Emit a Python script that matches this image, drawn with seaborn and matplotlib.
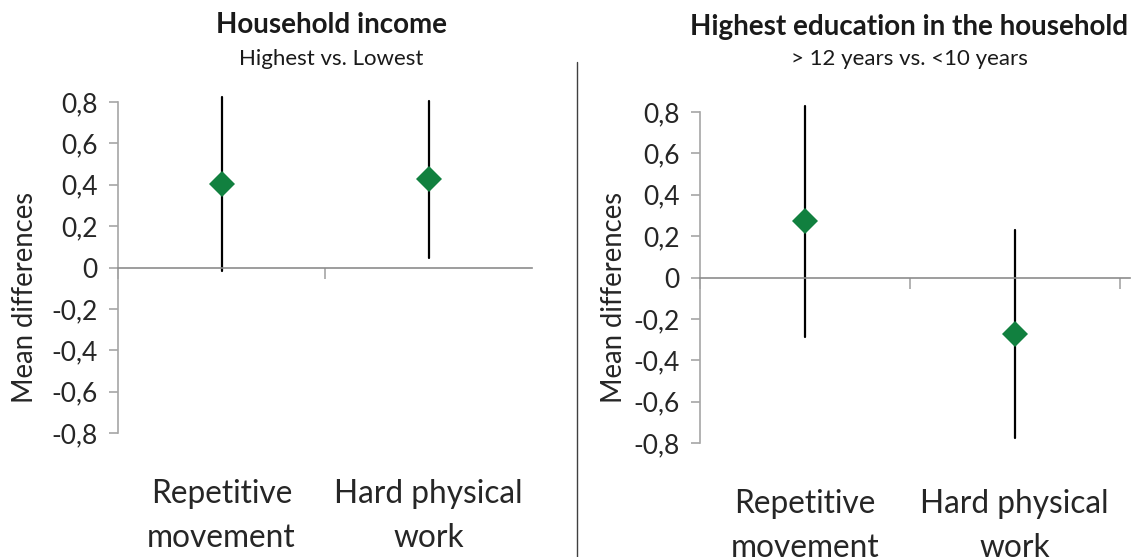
import numpy as np
import pandas as pd
import matplotlib
matplotlib.use("Agg")
import matplotlib.pyplot as plt
from matplotlib.lines import Line2D
import seaborn as sns

# ---- data -------------------------------------------------------------
categories = ["Repetitive\nmovement", "Hard physical\nwork"]

income_mean = [0.405, 0.43]
income_lower = [-0.015, 0.048]
income_upper = [0.823, 0.807]

education_mean = [0.271, -0.275]
education_lower = [-0.288, -0.776]
education_upper = [0.83, 0.23]

ytick_values = [-0.8, -0.6, -0.4, -0.2, 0, 0.2, 0.4, 0.6, 0.8]
ytick_labels = ["-0,8", "-0,6", "-0,4", "-0,2", "0", "0,2", "0,4", "0,6", "0,8"]

panel_titles = ["Household income", "Highest education in the household"]
panel_subtitles = ["Highest vs. Lowest", "> 12 years vs. <10 years"]

GREEN = "#11803f"
AXIS_GREY = "#a6a6a6"
FONT = ["Lato", "DejaVu Sans"]

sns.set_theme(style="white")
plt.rcParams["font.family"] = FONT


def long_frame(mean, lower, upper):
    rows = []
    for cat, m, lo, hi in zip(categories, mean, lower, upper):
        for v in (lo, m, hi):
            rows.append({"category": cat, "value": v})
    return pd.DataFrame(rows)


def draw_panel(ax, mean, lower, upper, ylabel_x, ylabel_y, xmax, boundaries):
    df = long_frame(mean, lower, upper)
    sns.pointplot(
        data=df, x="category", y="value", order=categories,
        estimator="median", errorbar=lambda s: (s.min(), s.max()),
        color=GREEN, markers="D", linestyle="none", markersize=13.5,
        err_kws={"color": "black", "linewidth": 1.6}, ax=ax,
    )
    for ln in ax.lines:
        ln.set_clip_on(False)
        if ln.get_marker() == "D":
            ln.set_zorder(5)
            ln.set_markeredgewidth(0)

    ax.set_xlim(-0.5, xmax)
    ax.set_ylim(-0.8, 0.8)
    ax.set_yticks(ytick_values)
    ax.set_yticklabels(ytick_labels)

    for side in ("top", "right"):
        ax.spines[side].set_visible(False)
    ax.spines["left"].set_color(AXIS_GREY)
    ax.spines["left"].set_linewidth(1.2)
    ax.spines["bottom"].set_position(("data", 0))
    ax.spines["bottom"].set_color("#8c8c8c")
    ax.spines["bottom"].set_linewidth(1.2)

    ax.tick_params(axis="y", which="major", direction="out", length=6.5, width=1.2,
                   color=AXIS_GREY, labelsize=19, pad=8, left=True)
    ax.set_xticks(boundaries, minor=True)
    ax.tick_params(axis="x", which="minor", direction="out", length=8, width=1.2,
                   color=AXIS_GREY, bottom=True)
    ax.tick_params(axis="x", which="major", length=0, labelsize=22.8, pad=152)
    for lab in ax.get_xticklabels():
        lab.set_linespacing(1.6)

    ax.set_xlabel("")
    ax.set_ylabel("Mean differences", fontsize=19.8)
    ax.yaxis.set_label_coords(ylabel_x, ylabel_y)


W, H = 1140, 557
fig = plt.figure(figsize=(W / 100, H / 100), dpi=100)

ax1 = fig.add_axes([118 / W, 1 - 433 / H, 414 / W, 331 / H])
ax2 = fig.add_axes([700 / W, 1 - 443 / H, 430 / W, 331 / H])

draw_panel(ax1, income_mean, income_lower, income_upper, -0.193, 0.41,
           1.5, [-0.5, 0.5])
draw_panel(ax2, education_mean, education_lower, education_upper, -0.17, 0.44,
           1.55, [-0.5, 0.5, 1.5])

# panel headings
for cx, ty, sy, title, sub in zip([331, 909], [25, 27], [59, 59], panel_titles, panel_subtitles):
    fig.text(cx / W, 1 - ty / H, title, ha="center", va="center",
             fontsize=20, fontweight="bold", color="#1a1a1a")
    fig.text(cx / W, 1 - sy / H, sub, ha="center", va="center",
             fontsize=16, color="#1a1a1a")

# separator between the two panels
fig.add_artist(Line2D([577 / W, 577 / W], [0, 1 - 62 / H], color="#404040", linewidth=1.0))

fig.savefig("out.png", dpi=100)
